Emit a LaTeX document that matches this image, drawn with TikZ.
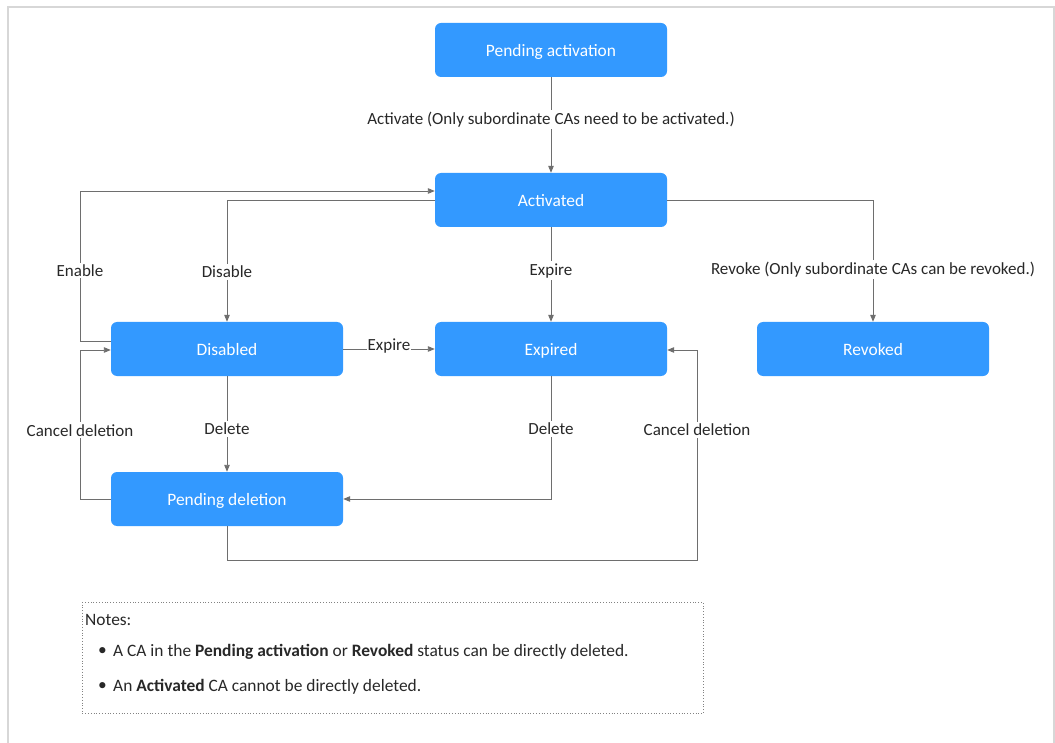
\documentclass[tikz,border=0pt]{standalone}
\usepackage{fontspec}
\setmainfont{Carlito}
\usetikzlibrary{arrows.meta}
\definecolor{stateblue}{RGB}{51,153,255}
\definecolor{linegray}{RGB}{110,110,110}
\definecolor{textdark}{RGB}{40,40,40}
\definecolor{framegray}{RGB}{215,215,215}
\definecolor{dotgray}{RGB}{130,130,130}
\begin{document}
\begin{tikzpicture}[x=1pt,y=-1pt,
  state/.style={rectangle, rounded corners=6pt, fill=stateblue, draw=none,
    minimum width=232pt, minimum height=54pt, text=white,
    text height=12.5pt, text depth=0pt, font=\fontsize{17.4}{20}\selectfont},
  link/.style={draw=linegray, line width=0.9pt, -{Triangle[width=5.5pt,length=7pt]}},
  lbl/.style={fill=white, text=textdark, inner sep=2pt, font=\fontsize{17}{20}\selectfont},
  note/.style={text=textdark, anchor=west, inner sep=0pt, font=\fontsize{17.4}{20}\selectfont}]
\useasboundingbox (0,0) rectangle (1055,743);
\fill[white] (0,0) rectangle (1055,743);
% outer frame, open at the bottom
\draw[framegray, line width=2pt] (8,743) -- (8,7) -- (1054,7) -- (1054,743);

% states
\node[state] (pa)  at (551,50)  {Pending activation};
\node[state] (act) at (551,200) {Activated};
\node[state] (dis) at (227,349) {Disabled};
\node[state] (exp) at (551,349) {Expired};
\node[state] (rev) at (873,349) {Revoked};
\node[state] (pd)  at (227,499) {Pending deletion};

% transitions
\draw[link] (pa) -- (act)
  node[lbl, pos=0.44] {Activate (Only subordinate CAs need to be activated.)};
\draw[link] (act.west) -| (dis.north)
  node[lbl, pos=0.795] {Disable};
\draw[link] ([yshift=8pt]dis.west) -- (80,341) -- (80,191)
  node[lbl, pos=0.47] {Enable} -- ([yshift=9pt]act.west);
\draw[link] (act) -- (exp) node[lbl, pos=0.46] {Expire};
\draw[link] (act.east) -| (rev.north)
  node[lbl, pos=0.787] {Revoke (Only subordinate CAs can be revoked.)};
\draw[link] (dis) -- (exp) node[lbl, midway, yshift=3pt, inner sep=0.5pt] {Expire};
\draw[link] (dis) -- (pd) node[lbl, pos=0.55] {Delete};
\draw[link] (pd.west) -- (80,499) -- (80,350)
  node[lbl, pos=0.46] {Cancel deletion} -- ([yshift=-1pt]dis.west);
\draw[link] (exp.south) |- (pd.east)
  node[lbl, pos=0.215] {Delete};
\draw[link] (pd.south) -- (227,560) -- (697,560) -- (697,350)
  node[lbl, pos=0.62] {Cancel deletion} -- ([yshift=-1pt]exp.east);

% notes
\node[draw=dotgray, dotted, line width=0.8pt, rectangle, minimum width=621pt,
  minimum height=111pt, anchor=north west, inner sep=0pt] (notes) at (82,602) {};
\node[note] (n0) at (85,620) {Notes:};
\node[note] (b1) at (98,652) {\textbullet};
\node[note] (t1) at (113,652) {A CA in the \textbf{Pending activation} or \textbf{Revoked} status can be directly deleted.};
\node[note] (b2) at (98,687) {\textbullet};
\node[note] (t2) at (113,687) {An \textbf{Activated} CA cannot be directly deleted.};
\end{tikzpicture}
\end{document}
